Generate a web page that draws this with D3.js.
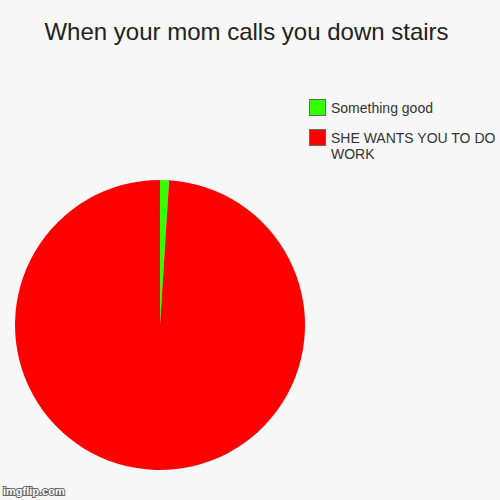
<!DOCTYPE html>
<html>
<head>
<meta charset="utf-8">
<script src="https://cdn.jsdelivr.net/npm/d3@7"></script>
<style>
  body { margin: 0; background: #f7f7f7; }
  svg { display: block; font-family: "Liberation Sans", Arial, sans-serif; }
</style>
</head>
<body>
<svg id="chart" width="500" height="500"></svg>
<script>
const title = 'When your mom calls you down stairs';
const labels = ['Something good', 'SHE WANTS YOU TO DO WORK'];
const values = [1, 99];
const colors = ['#33ff00', '#ff0000'];

const width = 500;
const height = 500;
const radius = 145;

const svg = d3.select('#chart');

svg.append('rect')
  .attr('width', width)
  .attr('height', height)
  .attr('fill', '#f7f7f7');

svg.append('text')
  .attr('x', 246.5)
  .attr('y', 40)
  .attr('text-anchor', 'middle')
  .attr('font-size', 24)
  .attr('fill', '#222')
  .text(title);

const data = labels.map((l, i) => ({ label: l, value: values[i], color: colors[i] }));

const pie = d3.pie().sort(null).value(d => d.value);
const arc = d3.arc().innerRadius(0).outerRadius(radius);

const g = svg.append('g').attr('transform', 'translate(160,325)');
g.selectAll('path')
  .data(pie(data))
  .join('path')
  .attr('d', arc)
  .attr('fill', d => d.data.color);

// legend
const legend = svg.append('g').attr('transform', 'translate(309,99)');
const rows = [0, 30];
const item = legend.selectAll('g')
  .data(data)
  .join('g')
  .attr('transform', (d, i) => `translate(0,${rows[i]})`);

item.append('rect')
  .attr('x', 0.5)
  .attr('y', 0.5)
  .attr('width', 16)
  .attr('height', 16)
  .attr('fill', d => d.color)
  .attr('stroke', '#666')
  .attr('stroke-width', 1);

item.append('text')
  .attr('x', 22)
  .attr('y', 13.5)
  .attr('font-size', 14)
  .attr('fill', '#333')
  .each(function (d) {
    const t = d3.select(this);
    const words = d.label.split(' ');
    let lines = [];
    let line = '';
    // wrap to fit the right edge
    words.forEach(w => {
      const test = line ? line + ' ' + w : w;
      if (test.length > 19 && line) { lines.push(line); line = w; }
      else line = test;
    });
    lines.push(line);
    lines.forEach((l, i) => {
      t.append('tspan').attr('x', 22).attr('dy', i ? 16 : 0).text(l);
    });
  });

// watermark
svg.append('text')
  .attr('x', 3)
  .attr('y', 495)
  .attr('font-size', 11)
  .attr('font-weight', 'bold')
  .attr('fill', '#fff')
  .attr('stroke', '#444')
  .attr('stroke-width', 2)
  .attr('paint-order', 'stroke')
  .attr('opacity', 0.8)
  .text('imgflip.com');
</script>
</body>
</html>
